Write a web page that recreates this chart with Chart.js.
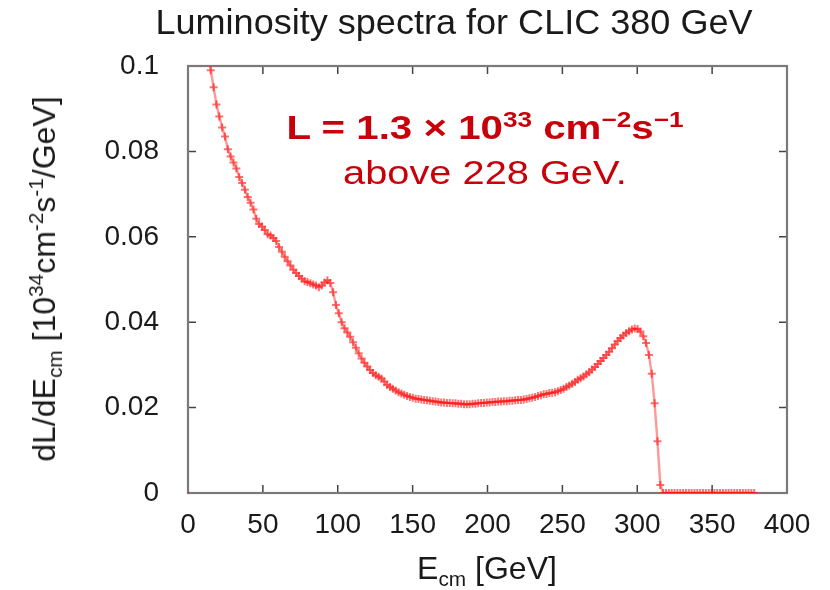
<!DOCTYPE html>
<html>
<head>
<meta charset="utf-8">
<title>Luminosity spectra for CLIC 380 GeV</title>
<script src="https://cdn.jsdelivr.net/npm/chart.js@4.4.1/dist/chart.umd.min.js"></script>
<style>
    html, body { margin: 0; padding: 0; background: #fff; }
    #wrap {
        position: relative; width: 830px; height: 590px;
        font-family: "Liberation Sans", Arial, Helvetica, sans-serif;
        color: #1a1a1a;
    }
    #wrap canvas { position: absolute; left: 0; top: 0; }
    .txt { position: absolute; white-space: nowrap; line-height: 1; }
    .title { left: 454px; top: 4px; font-size: 35px; transform: translateX(-50%) scaleX(1.03); }
    .lumi { left: 485px; top: 111px; font-size: 33px; font-weight: bold; color: #c8000a; transform: translateX(-50%) scaleX(1.22); }
    .above { left: 485px; top: 155px; font-size: 34px; color: #c8000a; transform: translateX(-50%) scaleX(1.17); }
    .xtitle { left: 487px; top: 552px; font-size: 32px; transform: translateX(-50%); }
    .ytitle { left: 44px; top: 279px; font-size: 32px; transform: translate(-50%, -50%) rotate(-90deg); }
    sub, sup { font-size: 65%; line-height: 0; }
</style>
</head>
<body>
<div id="wrap">
    <canvas id="spectrum" width="830" height="590"></canvas>
    <div class="txt title">Luminosity spectra for CLIC 380 GeV</div>
    <div class="txt lumi">L = 1.3 × 10<sup>33</sup> cm<sup>−2</sup>s<sup>−1</sup></div>
    <div class="txt above">above 228 GeV.</div>
    <div class="txt xtitle">E<sub>cm</sub> [GeV]</div>
    <div class="txt ytitle">dL/dE<sub>cm</sub> [10<sup>34</sup>cm<sup>-2</sup>s<sup>-1</sup>/GeV]</div>
</div>
<script>
(function () {
    "use strict";

    // Histogram of dL/dE_cm, 1.9 GeV bins; the first listed bin is bin 7.
    var binWidth = 1.9;
    var firstBin = 7;
    var dLdE = [
        0.1035, 0.0990, 0.0950, 0.0910, 0.0882, 0.0856, 0.0835, 0.0805, 0.0788, 0.0774,
        0.0760, 0.0740, 0.0726, 0.0710, 0.0693, 0.0680, 0.0664, 0.0642, 0.0630, 0.0624,
        0.0616, 0.0606, 0.0603, 0.0597, 0.0590, 0.0576, 0.0565, 0.0553, 0.0543, 0.0533,
        0.0523, 0.0515, 0.0508, 0.0502, 0.0496, 0.0494, 0.0491, 0.0488, 0.0486, 0.0482,
        0.0486, 0.0493, 0.0498, 0.0492, 0.0470, 0.0440, 0.0421, 0.0400, 0.0386, 0.0376,
        0.0366, 0.0353, 0.0340, 0.0327, 0.0315, 0.0305, 0.0296, 0.0288, 0.0281, 0.0276,
        0.0272, 0.0268, 0.0261, 0.0253, 0.0248, 0.0244, 0.0240, 0.0236, 0.0233, 0.0230,
        0.0227, 0.0225, 0.0223, 0.0221, 0.0220, 0.0219, 0.0218, 0.0217, 0.0216, 0.0215,
        0.0214, 0.0213, 0.0212, 0.0212, 0.0211, 0.0211, 0.0210, 0.0210, 0.0209, 0.0209,
        0.0208, 0.0208, 0.0208, 0.0209, 0.0209, 0.0210, 0.0211, 0.0211, 0.0212, 0.0212,
        0.0213, 0.0213, 0.0214, 0.0214, 0.0215, 0.0215, 0.0216, 0.0216, 0.0217, 0.0218,
        0.0218, 0.0219, 0.0220, 0.0222, 0.0223, 0.0225, 0.0227, 0.0229, 0.0231, 0.0232,
        0.0234, 0.0235, 0.0236, 0.0238, 0.0241, 0.0244, 0.0248, 0.0252, 0.0256, 0.0260,
        0.0265, 0.0269, 0.0273, 0.0278, 0.0283, 0.0289, 0.0295, 0.0302, 0.0309, 0.0316,
        0.0323, 0.0331, 0.0339, 0.0348, 0.0356, 0.0363, 0.0369, 0.0375, 0.0379, 0.0383,
        0.0385, 0.0384, 0.0378, 0.0367, 0.0351, 0.0323, 0.0279, 0.0210, 0.0121, 0.0019,
        0, 0, 0, 0, 0, 0, 0, 0, 0, 0,
        0, 0, 0, 0, 0, 0, 0, 0, 0, 0,
        0, 0, 0, 0, 0, 0, 0, 0, 0, 0,
        0, 0, 0
    ];
    // lone point at the origin (bin 0)
    var originE = [0];
    var originL = [0];

    var xTicks = [0, 50, 100, 150, 200, 250, 300, 350, 400];
    var yTicks = [0, 0.02, 0.04, 0.06, 0.08, 0.1];

    var points = dLdE.map(function (v, i) {
        return { x: +((firstBin + i) * binWidth).toFixed(2), y: v };
    });
    var origin = originE.map(function (e, i) {
        return { x: e, y: originL[i] };
    });

    var family = "'Liberation Sans', Arial, Helvetica, sans-serif";
    var TICK = 8;

    // gnuplot-style box: grey border with inward ticks mirrored on all sides
    var frame = {
        id: "frame",
        beforeDatasetsDraw: function (chart) {
            var ctx = chart.ctx;
            var a = chart.chartArea;
            var x = chart.scales.x;
            var y = chart.scales.y;
            ctx.save();
            ctx.strokeStyle = "#444";
            ctx.lineWidth = 1.5;
            ctx.beginPath();
            xTicks.forEach(function (v) {
                var px = x.getPixelForValue(v);
                ctx.moveTo(px, a.bottom);
                ctx.lineTo(px, a.bottom - TICK);
                ctx.moveTo(px, a.top);
                ctx.lineTo(px, a.top + TICK);
            });
            yTicks.forEach(function (v) {
                var py = y.getPixelForValue(v);
                ctx.moveTo(a.left, py);
                ctx.lineTo(a.left + TICK, py);
                ctx.moveTo(a.right, py);
                ctx.lineTo(a.right - TICK, py);
            });
            ctx.stroke();
            ctx.strokeStyle = "#7a7a7a";
            ctx.lineWidth = 2.2;
            ctx.strokeRect(a.left, a.top, a.right - a.left, a.bottom - a.top);
            ctx.restore();
        }
    };

    new Chart(document.getElementById("spectrum"), {
        type: "line",
        data: {
            datasets: [
                {
                    data: points,
                    borderColor: "rgba(255, 50, 50, 0.5)",
                    borderWidth: 2.4,
                    pointStyle: "cross",
                    pointRadius: 4,
                    pointBorderColor: "rgba(255, 20, 20, 0.6)",
                    pointBorderWidth: 2,
                    tension: 0
                },
                {
                    data: origin,
                    showLine: false,
                    pointStyle: "cross",
                    pointRadius: 2,
                    pointBorderColor: "rgba(255, 0, 0, 0.6)",
                    pointBorderWidth: 1
                }
            ]
        },
        options: {
            responsive: false,
            animation: false,
            devicePixelRatio: 1,
            layout: { padding: { top: 66, right: 43, left: 0, bottom: 0 } },
            plugins: {
                legend: { display: false },
                tooltip: { enabled: false }
            },
            scales: {
                x: {
                    type: "linear",
                    min: 0,
                    max: 400,
                    afterBuildTicks: function (s) {
                        s.ticks = xTicks.map(function (v) { return { value: v }; });
                    },
                    afterFit: function (s) { s.height = 97; },
                    grid: { display: false },
                    border: { display: false },
                    ticks: {
                        font: { family: family, size: 28 },
                        color: "#1a1a1a",
                        padding: 7,
                        maxRotation: 0,
                        autoSkip: false
                    }
                },
                y: {
                    type: "linear",
                    min: 0,
                    max: 0.1,
                    afterBuildTicks: function (s) {
                        s.ticks = yTicks.map(function (v) { return { value: v }; });
                    },
                    afterFit: function (s) { s.width = 188; },
                    grid: { display: false },
                    border: { display: false },
                    ticks: {
                        font: { family: family, size: 28 },
                        color: "#1a1a1a",
                        padding: 21,
                        callback: function (v) { return String(+v.toFixed(2)); }
                    }
                }
            }
        },
        plugins: [frame]
    });
})();
</script>
</body>
</html>
